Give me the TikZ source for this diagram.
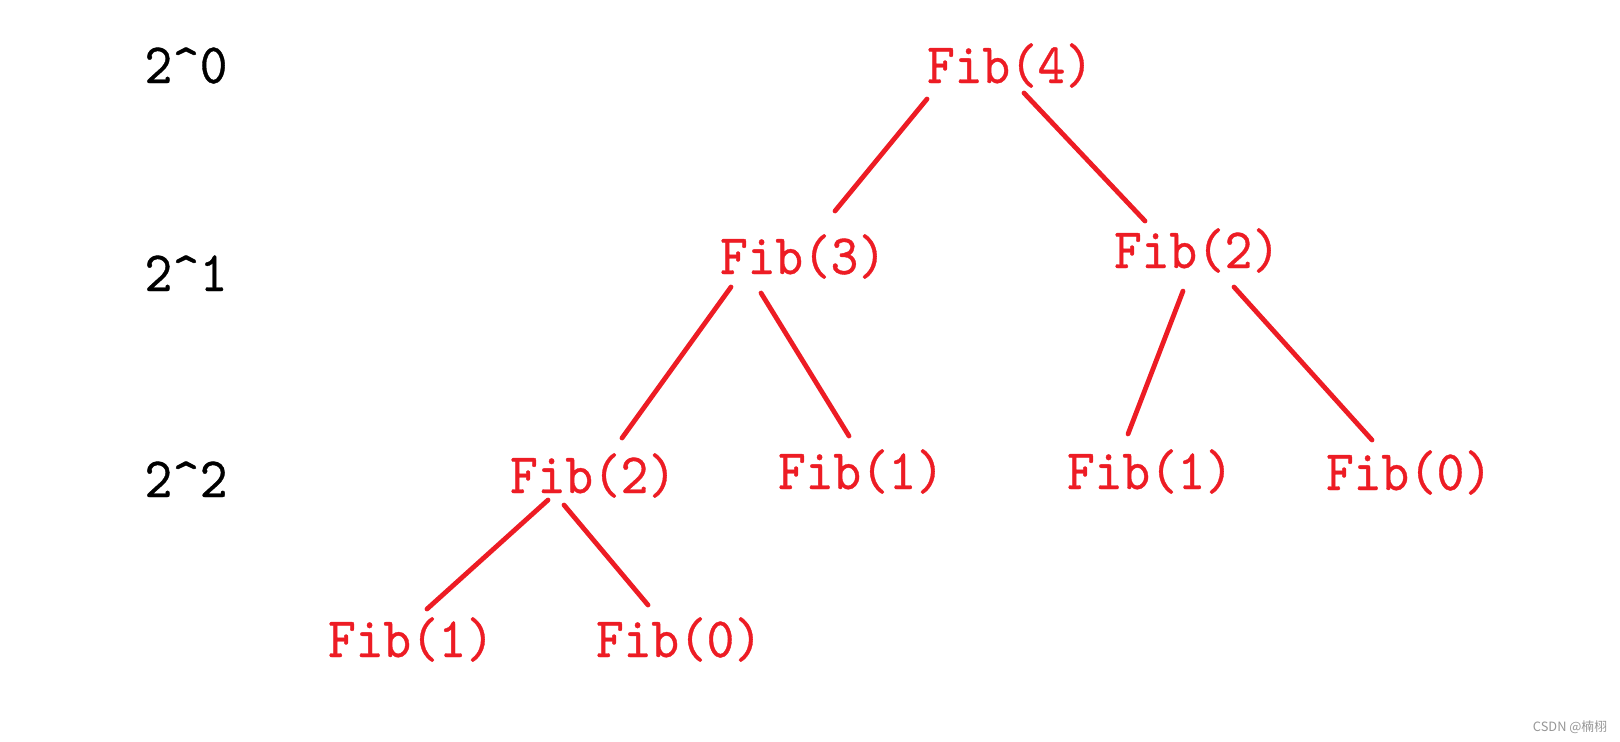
\documentclass[tikz,border=0pt]{standalone}
\usepackage{fontspec}
\usetikzlibrary{calc}
\newfontfamily\fibfont[FakeStretch=0.92,FakeBold=0.6]{lmmono10-regular.otf}
\newfontfamily\cjkfont{Noto Sans CJK SC}
\definecolor{fibred}{RGB}{237,28,36}
\definecolor{markgray}{RGB}{150,150,150}
\tikzset{
  fib/.style={anchor=base, inner sep=0pt, text=fibred, font=\fibfont\fontsize{28.6}{30}\selectfont},
  level/.style={anchor=base, inner sep=0pt, text=black, font=\fibfont\fontsize{28.6}{30}\selectfont},
  edge/.style={draw=fibred, line width=2.4pt, line cap=round},
}

\begin{document}
\begin{tikzpicture}[x=0.5pt,y=-0.5pt]
  \useasboundingbox (0,0) rectangle (1620,741);
  %Levels
  \node[level] (lev0) at (186,83) {2\^{}0};
  \node[level] (lev1) at (186,291) {2\^{}1};
  \node[level] (lev2) at (186,497) {2\^{}2};
  %Calls
  \node[fib] (fib4) at (1010,83) {Fib(4)};
  \node[fib] (fib3) at (803,274) {Fib(3)};
  \node[fib] (fib2r) at (1197,268) {Fib(2)};
  \node[fib] (fib2l) at (593,493) {Fib(2)};
  \node[fib] (fib1m) at (861,489) {Fib(1)};
  \node[fib] (fib1r) at (1150,489) {Fib(1)};
  \node[fib] (fib0r) at (1409,490) {Fib(0)};
  \node[fib] (fib1b) at (411,657) {Fib(1)};
  \node[fib] (fib0b) at (679,657) {Fib(0)};
  %Edges
  \draw[edge] ($(fib4.base)+(-83,16)$) -- ($(fib3.base)+(32,-63)$);
  \draw[edge] ($(fib4.base)+(14,10)$) -- ($(fib2r.base)+(-52,-47)$);
  \draw[edge] ($(fib3.base)+(-72,13)$) -- ($(fib2l.base)+(29,-55)$);
  \draw[edge] ($(fib3.base)+(-42,19)$) -- ($(fib1m.base)+(-12,-53)$);
  \draw[edge] ($(fib2r.base)+(-14,23)$) -- ($(fib1r.base)+(-22,-55)$);
  \draw[edge] ($(fib2r.base)+(37,19)$) -- ($(fib0r.base)+(-37,-50)$);
  \draw[edge] ($(fib2l.base)+(-45,7)$) -- ($(fib1b.base)+(16,-48)$);
  \draw[edge] ($(fib2l.base)+(-29,12)$) -- ($(fib0b.base)+(-31,-52)$);
  %Watermark
  \node[text=markgray, font=\cjkfont\fontsize{6.4}{7}\selectfont, inner sep=0pt] (mark) at (1570,727) {CSDN @楠栩};
\end{tikzpicture}
\end{document}
